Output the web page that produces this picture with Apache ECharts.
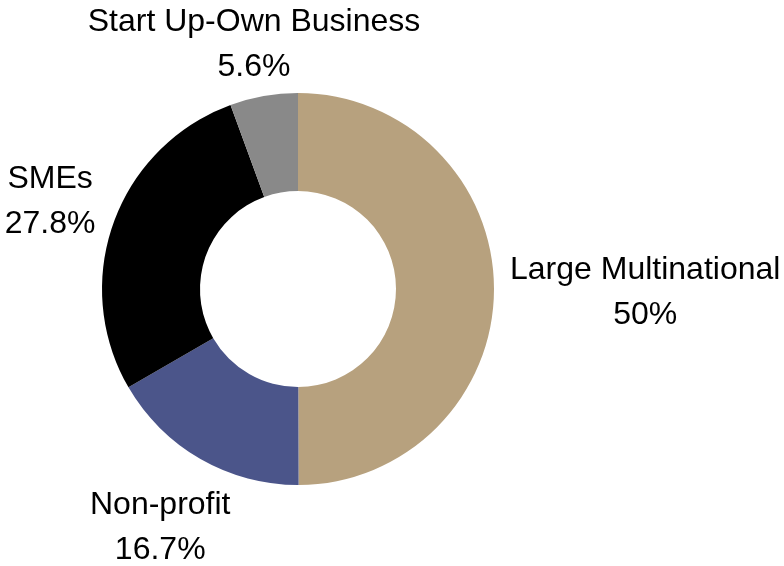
<!DOCTYPE html>
<html><head><meta charset="utf-8">
<script src="https://cdn.jsdelivr.net/npm/echarts@6/dist/echarts.min.js"></script>
<style>html,body{margin:0;padding:0;background:#fff}#c{width:784px;height:566px}</style>
</head><body><div id="c"></div>
<script>
const categories = ['Large Multinational', 'Non-profit', 'SMEs', 'Start Up-Own Business'];
const values = [50, 16.7, 27.8, 5.6];
const colors = ['#B7A17E', '#4B558A', '#000000', '#898989'];
const labelOffsets = [[-3, 4], [42, 57], [0, -16], [164, -38]];

const chart = echarts.init(document.getElementById('c'), null, {renderer: 'canvas'});
chart.setOption({
  animation: false,
  series: [{
    type: 'pie',
    center: [298, 289],
    radius: [98, 196],
    startAngle: 90,
    clockwise: true,
    avoidLabelOverlap: false,
    data: categories.map((n, i) => ({name: n, value: values[i], itemStyle: {color: colors[i]}})),
    label: {
      show: true,
      position: 'outside',
      formatter: p => p.name + '\n' + p.value + '%',
      fontFamily: 'Liberation Sans, Arial, sans-serif',
      fontSize: 32,
      lineHeight: 45,
      color: '#000'
    },
    labelLine: {show: false, length: 14, length2: 0},
    labelLayout: function (p) {
      const r = p.labelRect;
      const o = labelOffsets[p.dataIndex];
      return {x: r.x + r.width / 2 + o[0], y: r.y + r.height / 2 + o[1], align: 'center', verticalAlign: 'middle'};
    }
  }]
});
</script></body></html>
